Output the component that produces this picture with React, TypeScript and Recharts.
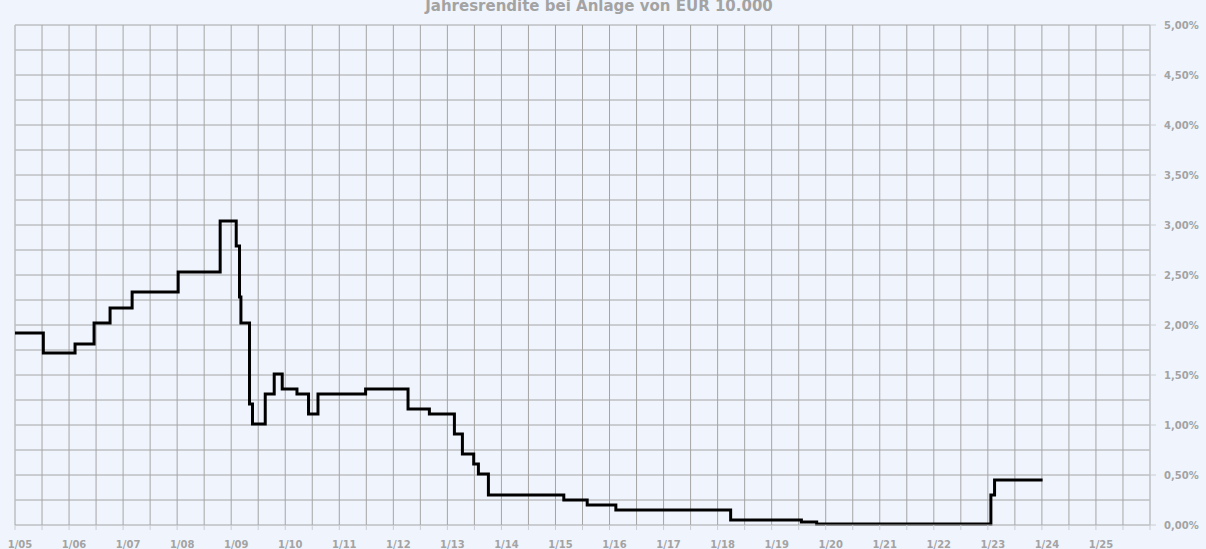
import React from 'react'
import { LineChart, Line, XAxis, YAxis, CartesianGrid, ReferenceLine } from 'recharts'

// step dates as decimal years, value in percent (new level from that date on)
const stepDates = [
  2005.0, 2005.524, 2006.111, 2006.463, 2006.759, 2007.167, 2008.019, 2008.796,
  2009.093, 2009.154, 2009.18, 2009.339, 2009.394, 2009.63, 2009.796, 2009.944,
  2010.217, 2010.431, 2010.606, 2011.487, 2012.272, 2012.667, 2013.13, 2013.278,
  2013.487, 2013.574, 2013.759, 2015.154, 2015.587, 2016.117, 2018.241, 2019.55,
  2019.833, 2023.056, 2023.124, 2024.013,
]
const stepValues = [
  1.92, 1.72, 1.81, 2.02, 2.17, 2.33, 2.53, 3.04,
  2.79, 2.28, 2.02, 1.21, 1.01, 1.31, 1.51, 1.36,
  1.31, 1.11, 1.31, 1.36, 1.16, 1.11, 0.91, 0.71,
  0.61, 0.51, 0.3, 0.25, 0.2, 0.15, 0.05, 0.03,
  0.01, 0.3, 0.45, 0.45,
]

const xTicks = Array.from({ length: 43 }, (_, i) => 2005 + i * 0.5)
const yTicks = [0, 0.5, 1, 1.5, 2, 2.5, 3, 3.5, 4, 4.5, 5]
const yGridLines = Array.from({ length: 20 }, (_, i) => 0.25 + i * 0.25)

const title = 'Jahresrendite bei Anlage von EUR 10.000'

const data = stepDates.map((t, i) => ({ t, v: stepValues[i] }))

const labelColor = '#a3a3a3'
const gridColor = '#a4a4a4'
const font = '"DejaVu Sans", Verdana, sans-serif'

function formatYear(t: number): string {
  if (!Number.isInteger(t) || t > 2025) return ''
  return `1/${String(t % 100).padStart(2, '0')}`
}

function formatPct(v: number): string {
  return `${v.toFixed(2).replace('.', ',')}%`
}

export default function App() {
  return (
    <div
      style={{
        position: 'absolute',
        left: 0,
        top: 0,
        width: 1206,
        height: 549,
        background: '#f0f5fd',
        overflow: 'hidden',
        fontFamily: font,
      }}
    >
      <div
        style={{
          position: 'absolute',
          top: -1,
          left: 0,
          width: 1198,
          textAlign: 'center',
          fontSize: 15,
          lineHeight: '15px',
          fontWeight: 'bold',
          color: labelColor,
        }}
      >
        {title}
      </div>
      <LineChart
        width={1206}
        height={549}
        data={data}
        margin={{ top: 25, right: 0, left: 15, bottom: 0 }}
      >
        <CartesianGrid stroke={gridColor} strokeWidth={1} horizontal={false} />
        {yGridLines.map((v) => (
          <ReferenceLine key={v} y={v} stroke={gridColor} strokeWidth={1} />
        ))}
        <XAxis
          dataKey="t"
          type="number"
          domain={[2005, 2026]}
          ticks={xTicks}
          interval={0}
          tickFormatter={formatYear}
          height={24}
          tickSize={5}
          tickMargin={11}
          axisLine={{ stroke: gridColor }}
          tickLine={{ stroke: '#c8ccd2' }}
          tick={{ fontSize: 10, fontWeight: 'bold', fill: labelColor, fontFamily: font, dx: 5 }}
        />
        <YAxis
          orientation="right"
          type="number"
          domain={[0, 5]}
          ticks={yTicks}
          interval={0}
          width={56}
          tickSize={6}
          tickMargin={8}
          tickFormatter={formatPct}
          axisLine={{ stroke: '#c8ccd2' }}
          tickLine={{ stroke: '#c8ccd2' }}
          tick={{ fontSize: 10, fontWeight: 'bold', fill: labelColor, fontFamily: font }}
        />
        <ReferenceLine x={2005} stroke="#c8ccd2" />
        <Line
          type="stepAfter"
          dataKey="v"
          stroke="#000000"
          strokeWidth={3}
          dot={false}
          activeDot={false}
          isAnimationActive={false}
        />
      </LineChart>
    </div>
  )
}
